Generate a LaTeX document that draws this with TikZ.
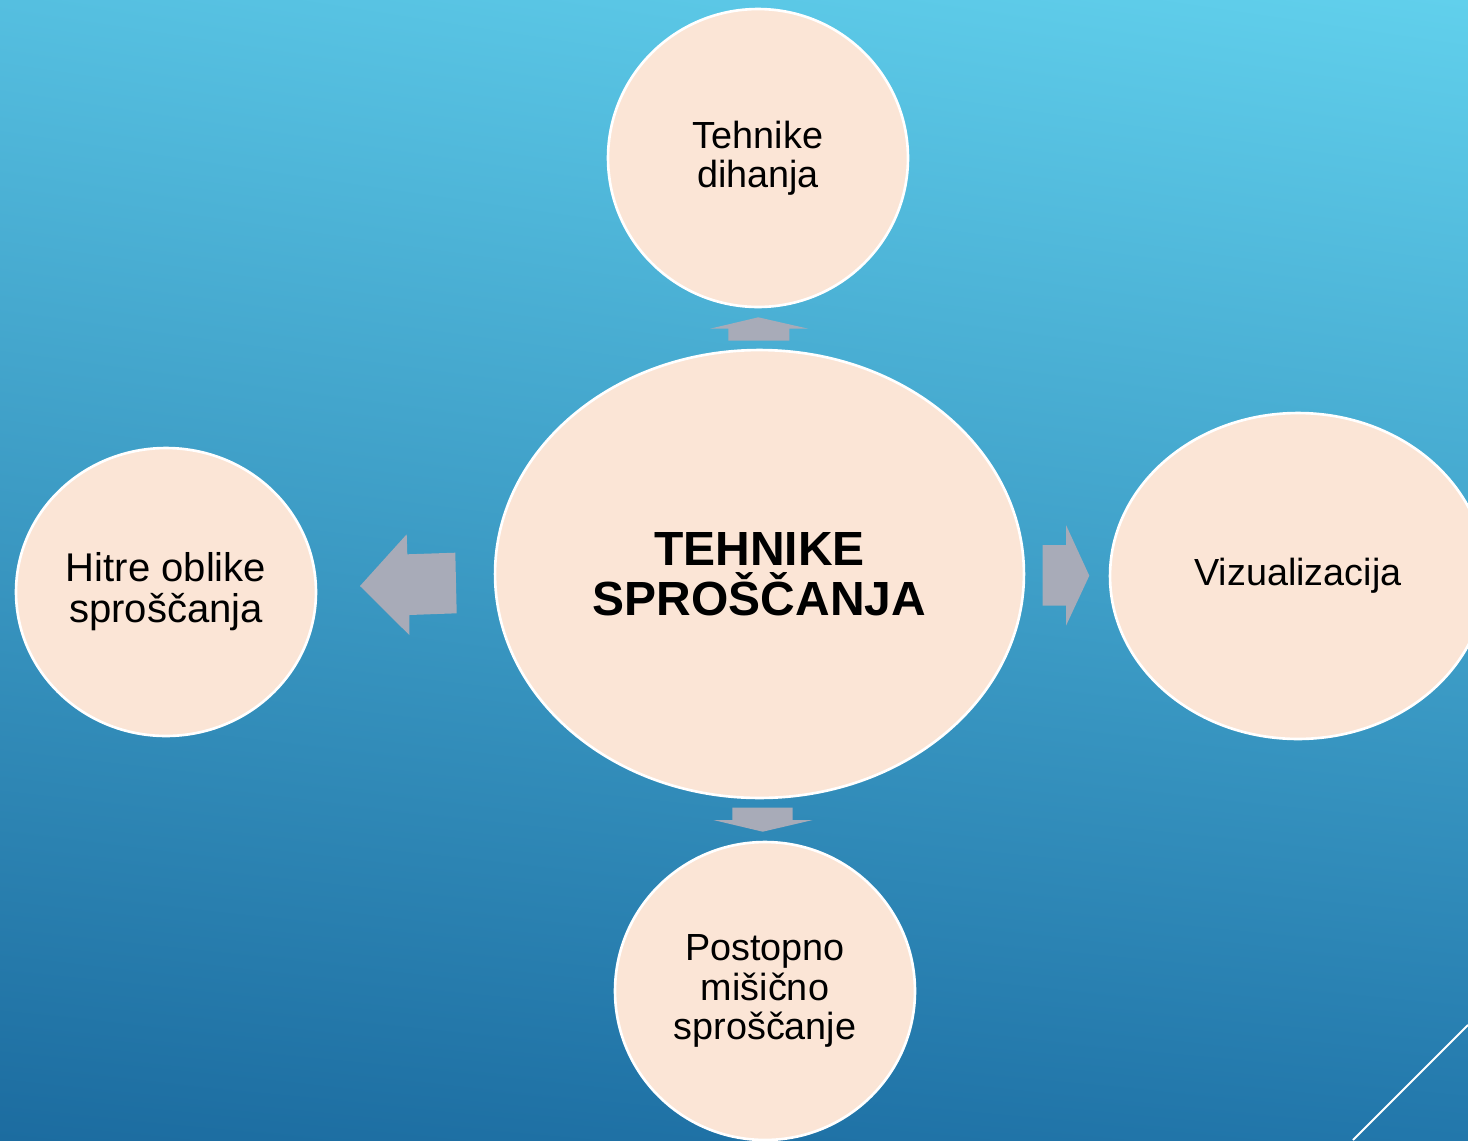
\documentclass[tikz,border=0pt]{standalone}
\usepackage{fontspec}
\setmainfont{Liberation Sans}
\usepackage{xcolor}
\usepackage{tikz}
\usetikzlibrary{shapes.geometric, shadings, positioning}

\definecolor{bgTL}{HTML}{55BFE0}
\definecolor{bgTR}{HTML}{61D0EC}
\definecolor{bgBL}{HTML}{1C6CA0}
\definecolor{bgBR}{HTML}{2277AB}
\definecolor{bubblefill}{HTML}{FBE5D6}
\definecolor{arrowgray}{HTML}{A8ABB8}

\tikzset{
    bubble/.style={ellipse, draw=white, line width=1.5pt, fill=bubblefill,
        inner sep=0pt, align=center, font=\fontsize{21.5}{22.4}\selectfont},
    blockarrow/.style={fill=arrowgray, draw=none}
}

\begin{document}
\begin{tikzpicture}[x=0.02cm, y=-0.02cm]

    % =================================================================
    % 1. KHUNG VÀ NỀN CHUYỂN MÀU
    % =================================================================
    \useasboundingbox (0,0) rectangle (1468,1140);
    \clip (0,0) rectangle (1468,1140);
    \shade[upper left=bgTL, upper right=bgTR, lower left=bgBL, lower right=bgBR]
        (0,0) rectangle (1468,1140);

    % =================================================================
    % 2. CÁC HÌNH ELIP
    % =================================================================
    % Elip trung tâm
    \node[bubble, minimum width=10.58cm, minimum height=8.96cm,
          font=\bfseries\fontsize{27.3}{28.4}\selectfont] (centre) at (759.5,574) {TEHNIKE\\SPROŠČANJA};

    % Bốn elip xung quanh
    \node[bubble, minimum width=6cm, minimum height=5.96cm] (breathing) at (758,158) {Tehnike\\dihanja};
    \node[bubble, minimum width=6cm, minimum height=5.76cm,
          font=\fontsize{22.8}{23.3}\selectfont] (quick) at (166,592) {Hitre oblike\\sproščanja};
    \node[bubble, minimum width=7.52cm, minimum height=6.52cm] (visual) at (1298,576) {Vizualizacija};
    \node[bubble, minimum width=6cm, minimum height=5.96cm] (muscle) at (765,991) {Postopno\\mišično\\sproščanje};

    % =================================================================
    % 3. CÁC MŨI TÊN KHỐI
    % =================================================================
    % Mũi tên lên
    \fill[blockarrow] (728.3,340.7) -- (728.3,328.7) -- (710,328.7) -- (758.3,317.3)
        -- (808.3,328.7) -- (789.3,328.7) -- (789.3,340.7) -- cycle;

    % Mũi tên sang trái
    \fill[blockarrow] (456.7,613.3) -- (409.3,615) -- (409.3,635) -- (360,586)
        -- (406.7,534.3) -- (407.3,554.3) -- (455.3,552.7) -- cycle;

    % Mũi tên sang phải
    \fill[blockarrow] (1042.7,545) -- (1066,545) -- (1066,525) -- (1089.3,575.7)
        -- (1066,625.7) -- (1066,605.7) -- (1042.7,605.7) -- cycle;

    % Mũi tên xuống
    \fill[blockarrow] (732.3,807.7) -- (792.7,807.7) -- (792.7,820) -- (812.7,820)
        -- (762.7,831.7) -- (713.3,820) -- (732.3,820) -- cycle;

    % =================================================================
    % 4. ĐƯỜNG TRANG TRÍ GÓC DƯỚI
    % =================================================================
    \draw[white, line width=1.1pt] (1353,1140) -- (1468,1025);

\end{tikzpicture}
\end{document}
